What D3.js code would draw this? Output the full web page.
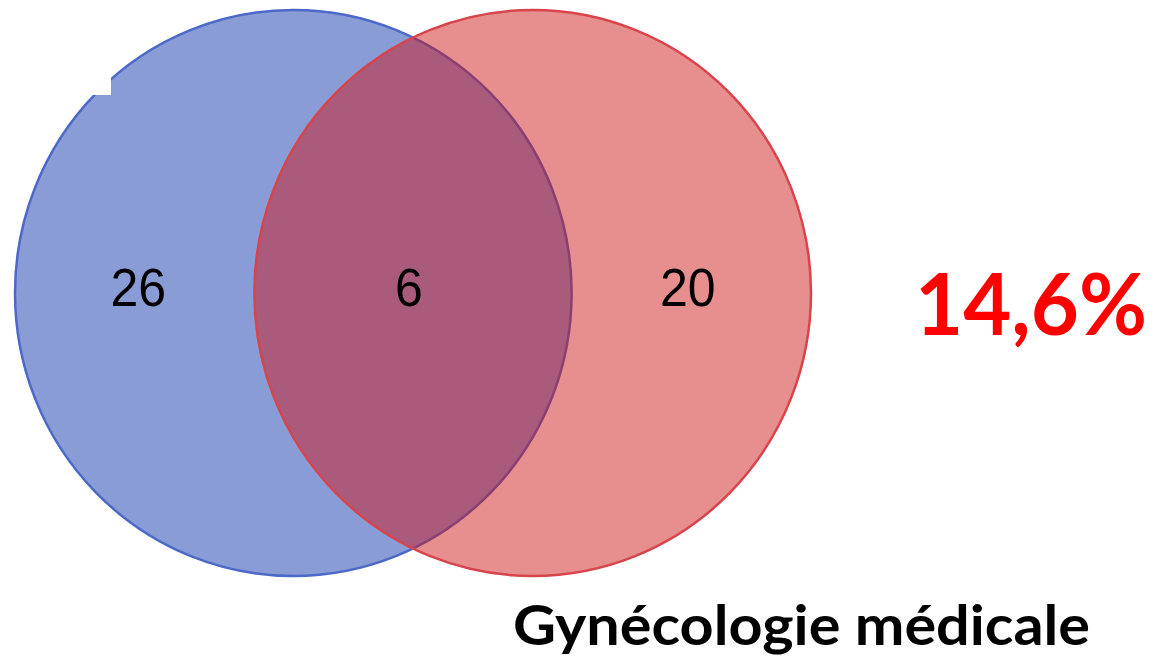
<!DOCTYPE html>
<html><head><meta charset="utf-8">
<script src="https://cdn.jsdelivr.net/npm/d3@7"></script>
<style>html,body{margin:0;padding:0;background:#fff;}svg{display:block;}</style>
</head><body>
<script>
// ---- data ----
const setNames = ["A", "B"];
const regionNames = ["A seul", "A ∩ B", "B seul"];
const regionValues = [26, 6, 20];
const percentLabel = "14,6%";
const titleLabel = "Gynécologie médicale";

// ---- layout ----
const W = 1160, H = 656;
const dist = 0.86; // distance between centres, in radii
const svg = d3.select("body").append("svg").attr("width", W).attr("height", H);

const x = d3.scaleLinear().domain([-1, 1 + dist]).range([15, 811]);
const y = d3.scaleLinear().domain([-1, 1]).range([10, 576]);

const circles = [
  {name: setNames[0], c: 0, fill: "#8a9cd6", op: 1, stroke: "#4c68c8"},
  {name: setNames[1], c: dist, fill: "rgb(205,18,20)", op: 0.48, stroke: "#d8444c"}
];

svg.selectAll("ellipse.set").data(circles).join("ellipse")
  .attr("class", "set")
  .attr("cx", d => x(d.c)).attr("cy", y(0))
  .attr("rx", d => x(d.c + 1) - x(d.c)).attr("ry", y(1) - y(0))
  .attr("fill", d => d.fill).attr("fill-opacity", d => d.op)
  .attr("stroke", d => d.stroke).attr("stroke-width", 2.5);

// white masks on top-left
svg.append("rect").attr("x", 0).attr("y", 0).attr("width", 111).attr("height", 95).attr("fill", "#fff");
svg.append("rect").attr("x", 0).attr("y", 0).attr("width", 180).attr("height", 33).attr("fill", "#fff");

const labelPos = [-0.557, dist / 2 - 0.015, dist + 0.557];
svg.selectAll("text.region").data(regionValues).join("text")
  .attr("class", "region")
  .attr("x", (d, i) => x(labelPos[i])).attr("y", 306)
  .attr("text-anchor", "middle")
  .attr("font-family", "'Liberation Sans', Arial, sans-serif")
  .attr("font-size", 50)
  .attr("transform", `translate(0,306) scale(1,1.07) translate(0,-306)`)
  .attr("fill", "#000")
  .text(d => d);

svg.append("text")
  .attr("x", 915).attr("y", 335)
  .attr("font-family", "Lato, 'Open Sans', sans-serif")
  .attr("font-weight", 700).attr("font-size", 86)
  .attr("fill", "#ff0000")
  .attr("textLength", 232).attr("lengthAdjust", "spacingAndGlyphs")
  .text(percentLabel);

svg.append("text")
  .attr("x", 513).attr("y", 645)
  .attr("font-family", "Lato, 'Open Sans', sans-serif")
  .attr("font-weight", 700).attr("font-size", 55)
  .attr("fill", "#000")
  .attr("textLength", 577).attr("lengthAdjust", "spacingAndGlyphs")
  .text(titleLabel);
</script>
</body></html>
